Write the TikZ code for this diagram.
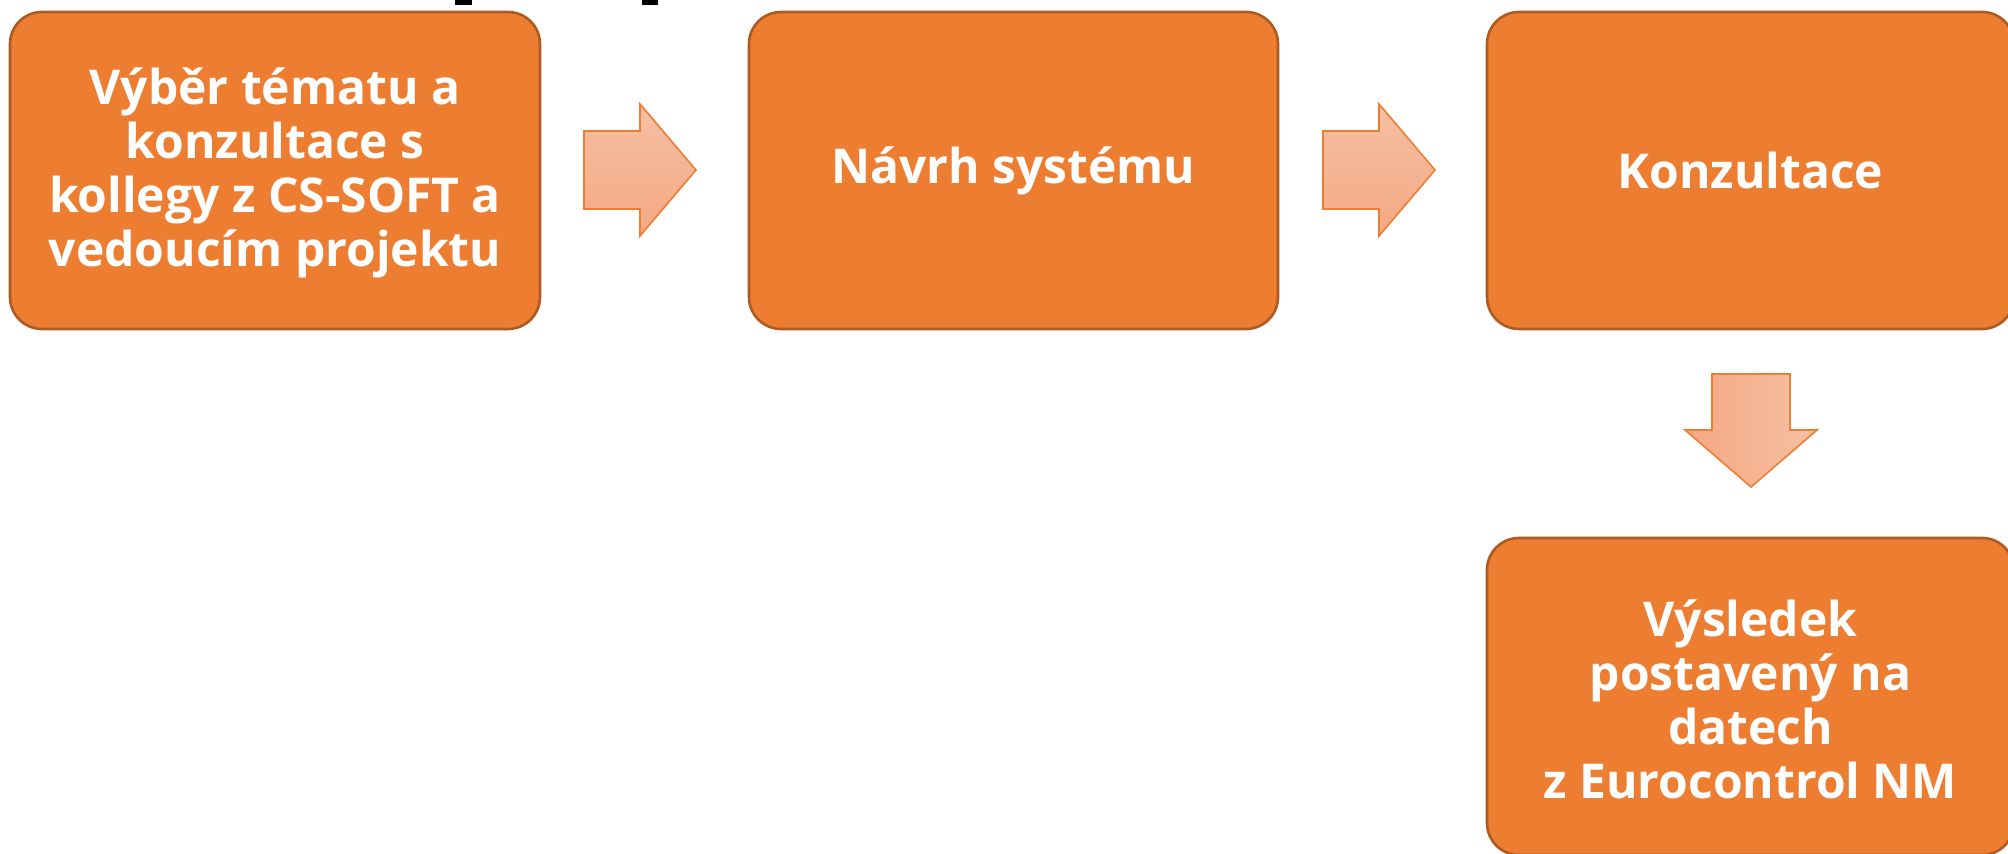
\documentclass[tikz,border=0pt]{standalone}
\usepackage{fontspec}
\setmainfont{Open Sans}
\definecolor{boxfill}{HTML}{ED7D31}
\definecolor{boxline}{HTML}{AE5A21}
\definecolor{arrowline}{HTML}{ED7D31}
\definecolor{arrowlight}{RGB}{246,192,163}
\definecolor{arrowdark}{RGB}{244,168,131}
\begin{document}
\begin{tikzpicture}[x=0.5pt,y=-0.5pt,
  stepbox/.style={draw=boxline, line width=1.3pt, fill=boxfill, rounded corners=16pt,
    text=white, align=center, inner sep=0pt,
    font=\fontsize{24pt}{27pt}\selectfont\bfseries},
  blockarrow/.style={draw=arrowline, line width=0.8pt, line join=miter},
  markbox/.style={fill=black, draw=none}
]
\useasboundingbox (0,0) rectangle (2008,854);
% remnants of cropped text at the top
\fill[markbox] (455,0) rectangle (472,5);
\fill[markbox] (642,0) rectangle (658,5);
% boxes
\node[stepbox, minimum width=265pt, minimum height=158.5pt] (b1) at (275,170.5) {};
\node[text=white, align=center, font=\fontsize{24pt}{27pt}\selectfont\bfseries, inner sep=0pt] (t1) at (275,173)
  {Výběr tématu a\\konzultace s\\kollegy z CS-SOFT a\\vedoucím projektu};
\node[stepbox, minimum width=264.5pt, minimum height=158.5pt] (b2) at (1013.5,170.5)
  {Návrh systému};
\node[stepbox, minimum width=263.5pt, minimum height=158.5pt] (b3) at (1750.5,170.5)
  {Konzultace};
\node[stepbox, minimum width=263.5pt, minimum height=158.5pt] (b4) at (1750.5,696.5) {};
\node[text=white, align=center, font=\fontsize{24pt}{27pt}\selectfont\bfseries, inner sep=0pt] (t4) at (1750.5,699)
  {Výsledek\\postavený na\\datech\\z Eurocontrol NM};
% right arrows
\path[blockarrow, top color=arrowlight, bottom color=arrowdark]
  (584,131) -- (640,131) -- (640,104) -- (696,170) -- (640,236) -- (640,209) -- (584,209) -- cycle;
\path[blockarrow, top color=arrowlight, bottom color=arrowdark]
  (1323,131) -- (1379,131) -- (1379,104) -- (1435,170) -- (1379,236) -- (1379,209) -- (1323,209) -- cycle;
% down arrow
\path[blockarrow, left color=arrowdark, right color=arrowlight]
  (1712,374) -- (1790,374) -- (1790,430) -- (1817,430) -- (1751,487) -- (1685,430) -- (1712,430) -- cycle;
\end{tikzpicture}
\end{document}
